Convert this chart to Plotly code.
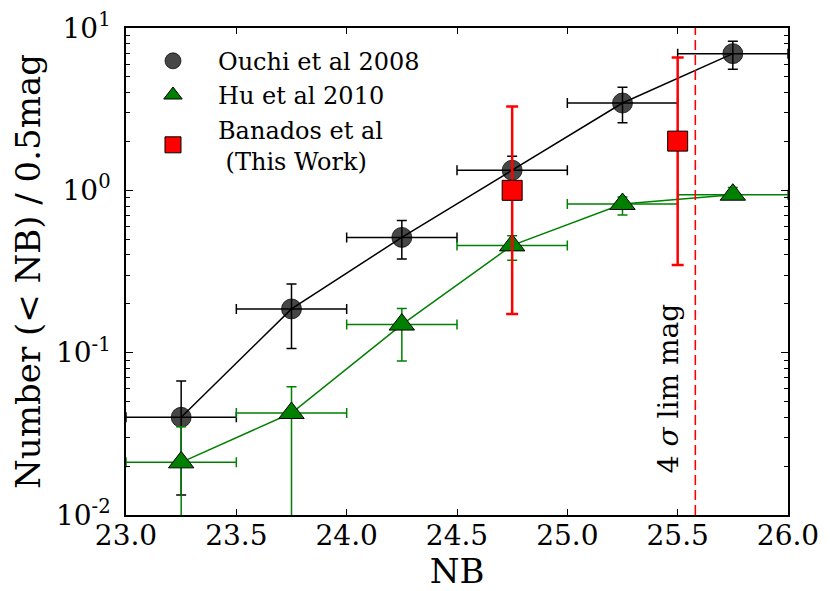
import plotly.graph_objects as go

# ---------------- data ----------------
nb_bins = [23.25, 23.75, 24.25, 24.75, 25.25, 25.75]
bin_half = 0.25

ouchi_n = [0.040, 0.186, 0.513, 1.33, 3.45, 6.95]
ouchi_hi = [0.067, 0.265, 0.653, 1.62, 4.31, 8.28]
ouchi_lo = [0.0133, 0.106, 0.377, 1.04, 2.61, 5.57]

hu_n = [0.0211, 0.0425, 0.149, 0.458, 0.824, 0.940]
hu_hi = [0.035, 0.0617, 0.187, 0.525, 0.91, 1.04]
hu_lo = [0.002, 0.002, 0.0887, 0.371, 0.705, 0.883]

ban_nb = [24.75, 25.5]
ban_n = [1.0, 2.01]
ban_hi = [3.29, 6.59]
ban_lo = [0.173, 0.347]

lim_mag = 25.58
lim_label = "4 <i>σ</i> lim mag"

x_ticks = [23.0, 23.5, 24.0, 24.5, 25.0, 25.5, 26.0]
x_ticktext = ["23.0", "23.5", "24.0", "24.5", "25.0", "25.5", "26.0"]
y_ticks = [0.01, 0.1, 1, 10]
y_ticktext = ["10<sup>-2</sup>", "10<sup>-1</sup>", "10<sup>0</sup>", "10<sup>1</sup>"]

FONT = "DejaVu Serif"


def plus(v, hi):
    return [h - x for x, h in zip(v, hi)]


def minus(v, lo):
    return [x - l for x, l in zip(v, lo)]


fig = go.Figure()

# connecting lines (not in legend)
fig.add_trace(go.Scatter(x=nb_bins, y=ouchi_n, mode="lines", showlegend=False,
                         line=dict(color="black", width=1.5), hoverinfo="skip"))

fig.add_trace(go.Scatter(
    x=nb_bins, y=ouchi_n, mode="markers", name="Ouchi et al 2008",
    legendgroup="a",
    marker=dict(symbol="circle", size=20, color="rgba(0,0,0,0.72)",
                line=dict(color="rgba(0,0,0,0.72)", width=1)),
    error_y=dict(type="data", array=plus(ouchi_n, ouchi_hi),
                 arrayminus=minus(ouchi_n, ouchi_lo), color="black",
                 thickness=1.5, width=5),
    error_x=dict(type="constant", value=bin_half, color="black",
                 thickness=1.5, width=5),
))

fig.add_trace(go.Scatter(x=nb_bins, y=hu_n, mode="lines", showlegend=False,
                         line=dict(color="green", width=1.5), hoverinfo="skip"))

fig.add_trace(go.Scatter(
    x=nb_bins, y=hu_n, mode="markers", name="Hu et al 2010",
    legendgroup="b",
    marker=dict(symbol="triangle-up", size=22, color="green",
                line=dict(color="black", width=1)),
    error_y=dict(type="data", array=plus(hu_n, hu_hi),
                 arrayminus=minus(hu_n, hu_lo), color="green",
                 thickness=1.5, width=5),
    error_x=dict(type="constant", value=bin_half, color="green",
                 thickness=1.5, width=5),
))

fig.add_trace(go.Scatter(
    x=ban_nb, y=ban_n, mode="markers", name="Banados et al<br> (This Work)",
    legendgroup="c",
    marker=dict(symbol="square", size=20, color="red",
                line=dict(color="black", width=1)),
    error_y=dict(type="data", array=plus(ban_n, ban_hi),
                 arrayminus=minus(ban_n, ban_lo), color="red",
                 thickness=2.5, width=6),
))

fig.add_shape(type="line", xref="x", yref="paper", x0=lim_mag, x1=lim_mag,
              y0=0, y1=1, line=dict(color="red", width=1.6, dash="10px,5px"))

fig.add_annotation(x=25.46, y=-1.22, xref="x", yref="y", text=lim_label,
                   textangle=-90, showarrow=False, xanchor="center",
                   yanchor="middle", font=dict(family=FONT, size=28, color="black"))

minor_vals = [m * 10 ** e for e in range(-2, 1) for m in range(2, 10)]

# page body has an 8px margin: shrink the figure so the plot area lands in place
fig.update_layout(
    width=822, height=583,
    margin=dict(l=118, r=42, t=20, b=76),
    paper_bgcolor="white", plot_bgcolor="white",
    font=dict(family=FONT, color="black"),
    showlegend=True,
    legend=dict(x=0.003, y=0.978, xanchor="left", yanchor="top",
                bgcolor="rgba(0,0,0,0)", font=dict(family=FONT, size=24),
                itemwidth=80, tracegroupgap=0),
    xaxis=dict(
        range=[23.0, 26.0], tickmode="array", tickvals=x_ticks, ticktext=x_ticktext,
        ticks="inside", ticklen=6, tickwidth=1.2, tickcolor="black",
        showline=True, linecolor="black", linewidth=1.5, mirror="ticks",
        showgrid=False, zeroline=False, automargin=False,
        tickfont=dict(family=FONT, size=28), ticklabelstandoff=-5,
        title=dict(text="NB", font=dict(family=FONT, size=34), standoff=2),
    ),
    yaxis=dict(
        type="log", range=[-2, 1], tickmode="array", tickvals=y_ticks,
        ticktext=y_ticktext,
        ticks="inside", ticklen=7, tickwidth=1.2, tickcolor="black",
        showline=True, linecolor="black", linewidth=1.5, mirror="ticks",
        showgrid=False, zeroline=False, automargin=False,
        tickfont=dict(family=FONT, size=28), ticklabelstandoff=8,
        minor=dict(ticks="inside", ticklen=4, tickwidth=1, tickcolor="black",
                   tickmode="array", tickvals=minor_vals, showgrid=False),
        title=dict(text="Number (&lt; NB) / 0.5mag", font=dict(family=FONT, size=34),
                   standoff=6),
    ),
)

fig.write_html("out.html", config={"displayModeBar": False})
